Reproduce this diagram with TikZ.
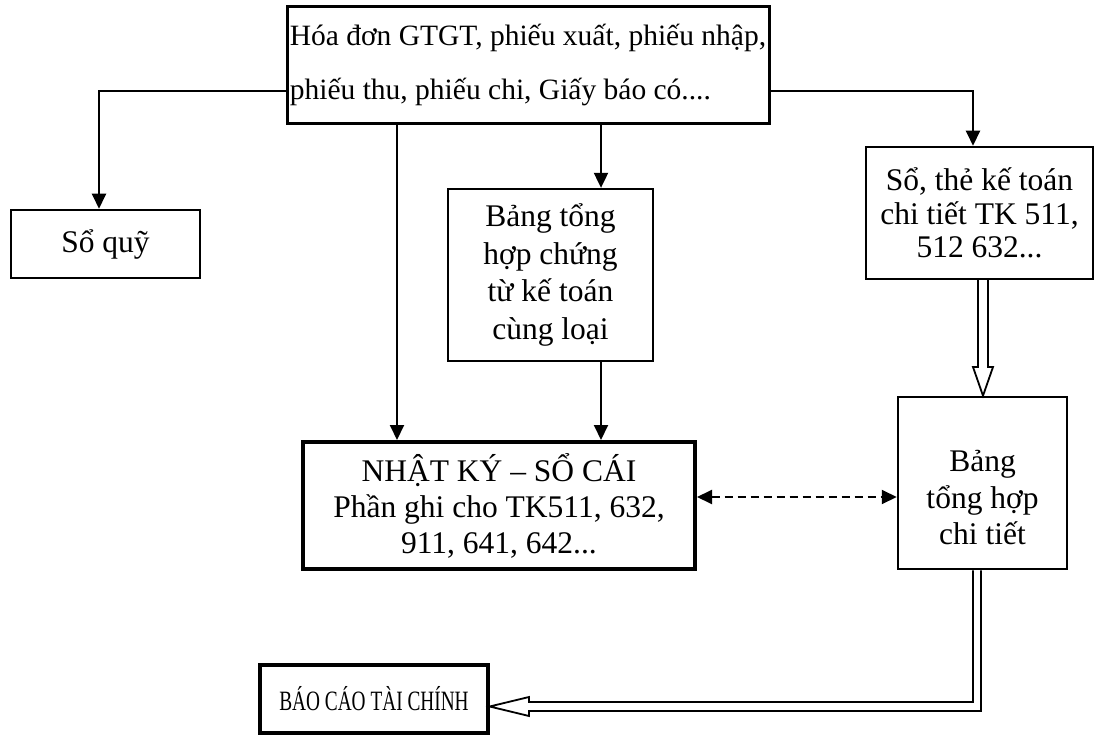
\documentclass[tikz,border=0pt]{standalone}
\usepackage{fontspec}
\usepackage{graphicx}
\setmainfont{Liberation Serif}
\usetikzlibrary{arrows.meta}
\begin{document}
\begin{tikzpicture}[x=1pt,y=-1pt,
  box/.style={draw, line width=2.5pt, align=center, inner sep=0pt,
    font=\fontsize{31.5}{36}\selectfont},
  conn/.style={line width=2pt, -{Triangle[width=14pt,length=15pt]}},
  linkboth/.style={line width=2pt, dash pattern=on 8pt off 5pt,
    {Triangle[width=14pt,length=15pt]}-{Triangle[width=14pt,length=15pt]}},
  hollow/.style={line width=1.8pt, fill=white, line join=miter}]
\useasboundingbox (0,0) rectangle (1095,735);

% source documents
\node[box, line width=3pt, minimum width=482pt, minimum height=117pt,
  align=left, font=\fontsize{29.5}{54}\selectfont] (src) at (528,65.5)
  {Hóa đơn GTGT, phiếu xuất, phiếu nhập,\\phiếu thu, phiếu chi, Giấy báo có....};

% books and summaries
\node[box, minimum width=189pt, minimum height=68pt] (soquy) at (105.5,244) {Sổ quỹ};
\node[box, line width=2.3pt, minimum width=205pt, minimum height=172pt,
  font=\fontsize{31.5}{37.5}\selectfont] (bthc) at (550.5,275)
  {Bảng tổng\\hợp chứng\\từ kế toán\\cùng loại};
\node[box, minimum width=227pt, minimum height=132pt,
  font=\fontsize{31.5}{33.5}\selectfont] (sct) at (979.5,213)
  {Sổ, thẻ kế toán\\chi tiết TK 511,\\512 632...};
\node[box, line width=4pt, minimum width=392pt, minimum height=127pt,
  font=\fontsize{31.5}{36}\selectfont] (nk) at (499,505.5)
  {NHẬT KÝ – SỔ CÁI\\Phần ghi cho TK511, 632,\\911, 641, 642...};
\node[box, minimum width=169pt, minimum height=172pt,
  font=\fontsize{31.5}{36.5}\selectfont] (bct) at (982.5,483)
  {\mbox{}\\[14.5pt]Bảng\\tổng hợp\\chi tiết};
\node[box, line width=3.3pt, minimum width=228pt, minimum height=68pt,
  font=\fontsize{28}{34}\selectfont] (bc) at (374,699)
  {\scalebox{0.69}[1]{BÁO CÁO TÀI CHÍNH}};

% plain connectors
\draw[conn] (src.west |- 0,91) -| ([xshift=-6.5pt]soquy.north);
\draw[conn] (src.east |- 0,91) -| ([xshift=-6.5pt]sct.north);
\draw[conn] (src.south -| 397,0) -- (nk.north -| 397,0);
\draw[conn] (src.south -| 601,0) -- (bthc.north -| 601,0);
\draw[conn] (bthc.south -| 601,0) -- (nk.north -| 601,0);

% two-way dashed link
\draw[linkboth] (nk.east |- 0,497) -- (bct.west |- 0,497);

% hollow double arrows
\draw[hollow] (sct.south -| 978,0) -- (978,367) -- (973,367) -- (bct.north -| 983,0)
  -- (993,367) -- (988,367) -- (sct.south -| 988,0);
\draw[hollow] (bct.south -| 973,0) -- (973,702) -- (529,702) -- (529,697)
  -- (bc.east |- 0,706.5) -- (529,716) -- (529,711) -- (981,711) -- (bct.south -| 981,0);
\end{tikzpicture}
\end{document}
